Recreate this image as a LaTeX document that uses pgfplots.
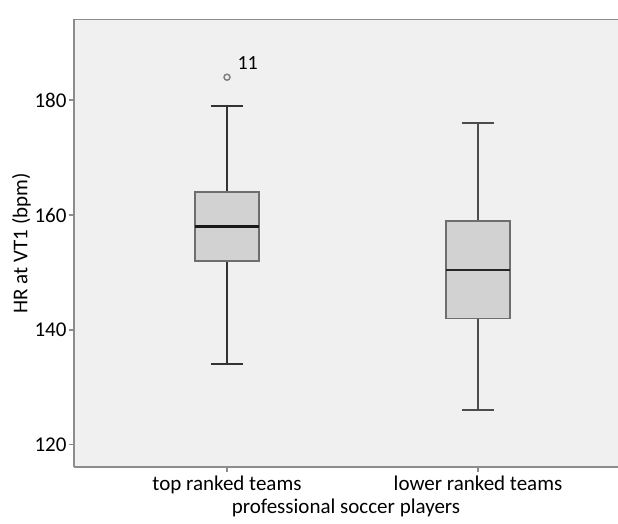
\documentclass[border=0pt]{standalone}
\usepackage{pgfplots}
\pgfplotsset{compat=1.18}
\usepackage{fontspec}
\setmainfont{Carlito}

\definecolor{panel}{HTML}{F0F0F0}
\definecolor{boxfill}{HTML}{D2D2D2}
\definecolor{boxedge}{HTML}{6E6E6E}
\definecolor{axisgray}{HTML}{8C8C8C}

\begin{document}
\begin{tikzpicture}
\useasboundingbox (-74pt,-56pt) rectangle (544pt,467pt);
\begin{axis}[
  scale only axis,
  width=544pt, height=447.5pt,
  xmin=0.3904, xmax=2.5578,
  ymin=116.13, ymax=194.05,
  axis x line*=box, axis y line*=left,
  axis background/.style={fill=panel},
  axis line style={axisgray, line width=1.6pt},
  tick style={axisgray, line width=1.4pt},
  tick align=outside,
  major tick length=5pt,
  xtick pos=bottom, ytick pos=left,
  xtick={1,2},
  xticklabels={top ranked teams, lower ranked teams},
  ytick={120,140,160,180},
  /pgf/number format/assume math mode=true,
  tick label style={font=\fontsize{21}{24}\selectfont, black},
  yticklabel style={xshift=1pt},
  xlabel={professional soccer players},
  ylabel={HR at VT1 (bpm)},
  label style={font=\fontsize{21}{24}\selectfont},
  xlabel style={yshift=1pt},
  ylabel style={yshift=-3pt},
  clip=false,
]
% --- top ranked teams: whiskers 134/179, quartiles 152/164, median 158
\addplot[draw=black!80, line width=1.8pt] coordinates {(1,164) (1,179)};
\addplot[draw=black!80, line width=1.8pt] coordinates {(1,152) (1,134)};
\addplot[draw=black!80, line width=2.2pt] coordinates {(0.9365,179) (1.0635,179)};
\addplot[draw=black!80, line width=2.2pt] coordinates {(0.9365,134) (1.0635,134)};
\addplot[fill=boxfill, draw=boxedge, line width=1.5pt]
  coordinates {(0.8725,152) (1.1275,152) (1.1275,164) (0.8725,164)} --cycle;
\addplot[draw=black!90, line width=2.6pt] coordinates {(0.8725,158) (1.1275,158)};
% outlier (case 11)
\addplot[only marks, mark=o, mark size=3pt, mark options={draw=gray, line width=1.5pt}]
  coordinates {(1,184)};
\node[font=\fontsize{20}{24}\selectfont, anchor=west] at (axis cs:1,184) [xshift=7pt, yshift=14pt] {11};
% --- lower ranked teams: whiskers 126/176, quartiles 142/159, median 150.5
\addplot[draw=black!70, line width=1.8pt] coordinates {(2,159) (2,176)};
\addplot[draw=black!70, line width=1.8pt] coordinates {(2,142) (2,126)};
\addplot[draw=black!70, line width=2.2pt] coordinates {(1.9365,176) (2.0635,176)};
\addplot[draw=black!70, line width=2.2pt] coordinates {(1.9365,126) (2.0635,126)};
\addplot[fill=boxfill, draw=boxedge, line width=1.5pt]
  coordinates {(1.8725,142) (2.1275,142) (2.1275,159) (1.8725,159)} --cycle;
\addplot[draw=black!85, line width=2pt] coordinates {(1.8725,150.5) (2.1275,150.5)};
\end{axis}
\end{tikzpicture}
\end{document}
